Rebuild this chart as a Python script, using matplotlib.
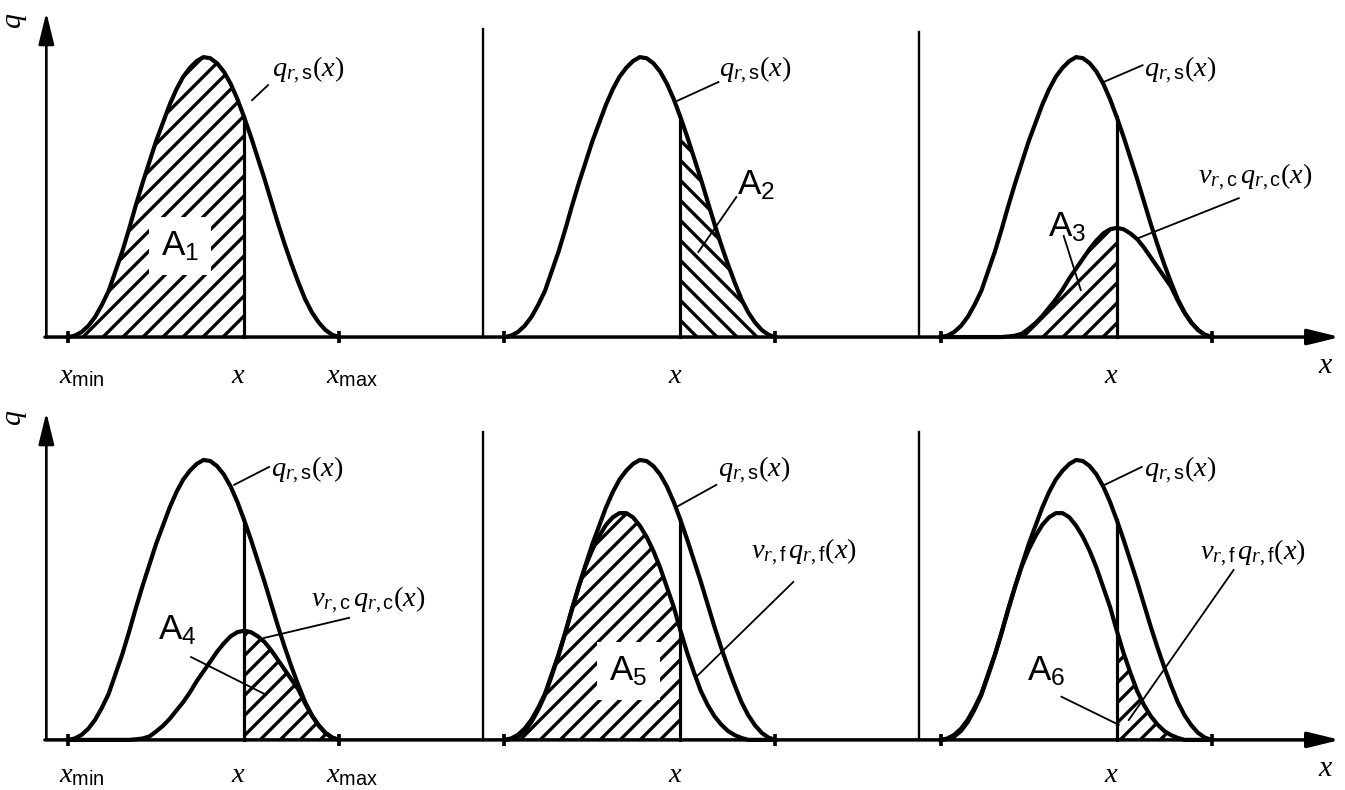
#
# Schematic of the separation areas A1..A6 under the size distributions
# q_r,s (feed), v_r,c q_r,c (coarse) and v_r,f q_r,f (fine)
#

import numpy as np
import matplotlib
matplotlib.use('Agg')
import matplotlib.pyplot as plt


### Fonts ###

plt.rcParams['font.family'] = ['Liberation Sans', 'DejaVu Sans']
plt.rcParams['mathtext.fontset'] = 'custom'
plt.rcParams['mathtext.rm'] = 'Liberation Serif'
plt.rcParams['mathtext.it'] = 'Liberation Serif:italic'
plt.rcParams['mathtext.sf'] = 'Liberation Sans'
plt.rcParams['hatch.linewidth'] = 2.0


### Data (x between x_min = 0 and x_max = 10) ###

sizes = [0.0, 0.25, 0.5, 0.75, 1.0, 1.25, 1.5, 1.75, 2.0, 2.25,
         2.5, 2.75, 3.0, 3.25, 3.5, 3.75, 4.0, 4.25, 4.5, 4.75,
         5.0, 5.25, 5.5, 5.75, 6.0, 6.25, 6.5, 6.75, 7.0, 7.25,
         7.5, 7.75, 8.0, 8.25, 8.5, 8.75, 9.0, 9.25, 9.5, 9.75, 10.0]

# Feed distribution q_r,s(x)
q_feed = [0.0, 0.005, 0.018, 0.04, 0.072, 0.115, 0.165, 0.235, 0.305, 0.385,
          0.47, 0.55, 0.625, 0.70, 0.765, 0.83, 0.885, 0.93, 0.962, 0.986,
          1.0, 0.996, 0.978, 0.948, 0.905, 0.85, 0.785, 0.715, 0.64, 0.565,
          0.485, 0.405, 0.33, 0.26, 0.195, 0.135, 0.088, 0.052, 0.025, 0.008, 0.0]

# Coarse product v_r,c q_r,c(x)
q_coarse = [0.0, 0.0, 0.0, 0.0, 0.0, 0.0, 0.0, 0.0, 0.0, 0.0,
            0.002, 0.005, 0.012, 0.03, 0.05, 0.075, 0.105, 0.135, 0.17, 0.21,
            0.245, 0.28, 0.315, 0.345, 0.37, 0.385, 0.39, 0.385, 0.37, 0.35,
            0.32, 0.285, 0.25, 0.215, 0.18, 0.13, 0.086, 0.051, 0.025, 0.008, 0.0]

# Fine product v_r,f q_r,f(x)
q_fine = [0.0, 0.003, 0.012, 0.032, 0.064, 0.108, 0.16, 0.23, 0.302, 0.382,
          0.467, 0.548, 0.622, 0.68, 0.728, 0.768, 0.795, 0.81, 0.81, 0.795,
          0.765, 0.725, 0.675, 0.615, 0.545, 0.475, 0.39, 0.31, 0.24, 0.175,
          0.125, 0.085, 0.055, 0.032, 0.017, 0.007, 0.0, 0.0, 0.0, 0.0, 0.0]

# Cut size x
cut_size = 6.5

# Horizontal start of each of the three panels in a row
panel_offsets = [0.0, 16.1, 32.2]

# Height of the q axis line in each panel (top row, bottom row)
axis_tops = [[1.16, 1.10, 1.09], [1.17, 1.10, 1.10]]

# Hatched area of each panel: (curve, side of the cut, hatch, label, label position, white box)
areas = [
    ('feed', 'below', '//', '1', (4.13, 0.325), True),
    ('feed', 'above', '\\\\', '2', (8.6, 0.54), False),
    ('coarse', 'below', '//', '3', (3.95, 0.39), False),
    ('coarse', 'above', '//', '4', (3.32, 0.39), False),
    ('fine', 'below', '//', '5', (4.58, 0.246), True),
    ('fine', 'above', '//', '6', (3.17, 0.246), False),
]

# Leader lines of the area labels (from curve/area to label), None if no leader
area_leaders = [
    None,
    ((7.16, 0.304), (8.56, 0.50)),
    ((5.17, 0.168), (4.54, 0.361)),
    ((7.31, 0.161), (4.54, 0.296)),
    None,
    ((6.57, 0.054), (4.46, 0.154)),
]

# q_r,s(x) label: leader start, leader end, label position
feed_labels = [
    ((6.79, 0.846), (7.38, 0.90), (7.53, 0.954)),
    ((6.27, 0.839), (7.90, 0.911), (7.93, 0.954)),
    ((6.01, 0.911), (7.45, 0.971), (7.49, 0.954)),
    ((6.13, 0.911), (7.42, 0.975), (7.49, 0.964)),
    ((6.35, 0.832), (7.82, 0.911), (7.90, 0.964)),
    ((6.05, 0.911), (7.42, 0.975), (7.49, 0.964)),
]

# Product label (coarse or fine): leader start, leader end, label position
product_labels = [
    None,
    None,
    ((7.31, 0.354), (11.0, 0.496), (9.48, 0.571)),
    ((7.23, 0.364), (10.37, 0.436), (8.97, 0.50)),
    ((7.08, 0.225), (10.66, 0.564), (9.11, 0.671)),
    ((6.94, 0.071), (10.81, 0.607), (9.56, 0.668)),
]

# Vertical position of the x_min / x / x_max labels in each row
size_label_y = [-0.14, -0.125]


### Figure setup ###

fig = plt.figure(figsize=(1345 / 120, 790 / 120), dpi=120)
ax_top = fig.add_axes([0, 0.5, 1, 0.5])
ax_bot = fig.add_axes([0, 0, 1, 0.5])

ax_top.set_ylim(-0.207, 1.204)
ax_bot.set_ylim(-0.179, 1.232)

sizes_arr = np.array(sizes)
curves = {'feed': np.array(q_feed), 'coarse': np.array(q_coarse), 'fine': np.array(q_fine)}
q_cut = q_feed[sizes.index(cut_size)]

label_fs = 17
tick_fs = 17
area_fs = 21


### Draw one row of three panels ###

def draw_row(ax, row):

    ax.set_xlim(-2.51, 47.12)
    ax.axis('off')

    # Horizontal x axis with arrow
    ax.annotate('', xy=(46.94, 0), xytext=(-0.85, 0),
                arrowprops=dict(arrowstyle='-|>,head_length=0.9,head_width=0.22',
                                lw=2.1, color='black', mutation_scale=18,
                                shrinkA=0, shrinkB=0))
    ax.text(46.4, -0.10, '$x$', fontsize=tick_fs + 1, ha='center', va='center')

    # q axis label
    ax.text(-1.96, 1.13 + 0.02 * row, '$q$', fontsize=tick_fs + 1, rotation=90,
            ha='center', va='center')

    for k in range(3):

        off = panel_offsets[k]
        i = 3 * row + k
        curve_name, side, hatch, num, label_pos, boxed = areas[i]

        # Vertical q axis
        if k == 0:
            ax.annotate('', xy=(off - 0.8, axis_tops[row][k]), xytext=(off - 0.8, 0),
                        arrowprops=dict(arrowstyle='-|>,head_length=0.9,head_width=0.22',
                                        lw=1.6, color='black', mutation_scale=18,
                                        shrinkA=0, shrinkB=0))
        else:
            ax.plot([off - 0.8, off - 0.8], [0, axis_tops[row][k]], color='black', lw=1.4)

        # Ticks at x_min and x_max
        ax.plot([off, off + 10], [0, 0], ls='none', marker='|', ms=7.5, mew=2.2, color='black')

        # Hatched area
        q_area = curves[curve_name]
        if side == 'below':
            mask = sizes_arr <= cut_size
        else:
            mask = sizes_arr >= cut_size
        ax.fill_between(sizes_arr[mask] + off, 0, q_area[mask], facecolor='none',
                        edgecolor='black', linewidth=0, hatch=hatch, zorder=2)

        # Curves
        ax.plot(sizes_arr + off, curves['feed'], color='black', lw=2.5,
                solid_joinstyle='round', zorder=3)
        if curve_name != 'feed':
            ax.plot(sizes_arr + off, q_area, color='black', lw=2.5,
                    solid_joinstyle='round', zorder=3)

        # Cut size line
        ax.plot([off + cut_size, off + cut_size], [0, q_cut], color='black', lw=1.9, zorder=3)

        # Size labels below the axis
        y_lab = size_label_y[row]
        ax.text(off + cut_size - 0.2, y_lab, '$x$', fontsize=tick_fs, ha='center', va='center')
        if k == 0:
            ax.text(off + 0.5, y_lab, r'$x_{\mathsf{min}}$', fontsize=tick_fs,
                    ha='center', va='center')
            ax.text(off + 10.5, y_lab, r'$x_{\mathsf{max}}$', fontsize=tick_fs,
                    ha='center', va='center')

        # Area label
        text = r'$\mathsf{A}_{\mathsf{' + num + '}}$'
        if boxed:
            ax.text(off + label_pos[0], label_pos[1], text, fontsize=area_fs,
                    ha='center', va='center', zorder=4,
                    bbox=dict(facecolor='white', edgecolor='none', boxstyle='square,pad=0.35'))
        else:
            ax.text(off + label_pos[0], label_pos[1], text, fontsize=area_fs,
                    ha='left', va='center', zorder=4)
        if area_leaders[i] is not None:
            (x0, y0), (x1, y1) = area_leaders[i]
            ax.plot([off + x0, off + x1], [y0, y1], color='black', lw=1.1, zorder=4)

        # Feed distribution label
        (x0, y0), (x1, y1), (tx, ty) = feed_labels[i]
        ax.plot([off + x0, off + x1], [y0, y1], color='black', lw=1.1, zorder=4)
        ax.text(off + tx, ty, r'$q_{r,\mathsf{s}}(x)$', fontsize=label_fs,
                ha='left', va='center')

        # Product distribution label
        if product_labels[i] is not None:
            (x0, y0), (x1, y1), (tx, ty) = product_labels[i]
            ax.plot([off + x0, off + x1], [y0, y1], color='black', lw=1.1, zorder=4)
            tag = 'c' if curve_name == 'coarse' else 'f'
            ax.text(off + tx, ty,
                    r'$v_{r,\mathsf{' + tag + r'}}\,q_{r,\mathsf{' + tag + '}}(x)$',
                    fontsize=label_fs, ha='left', va='center')


draw_row(ax_top, 0)
draw_row(ax_bot, 1)

plt.savefig('out.png', dpi=120)
